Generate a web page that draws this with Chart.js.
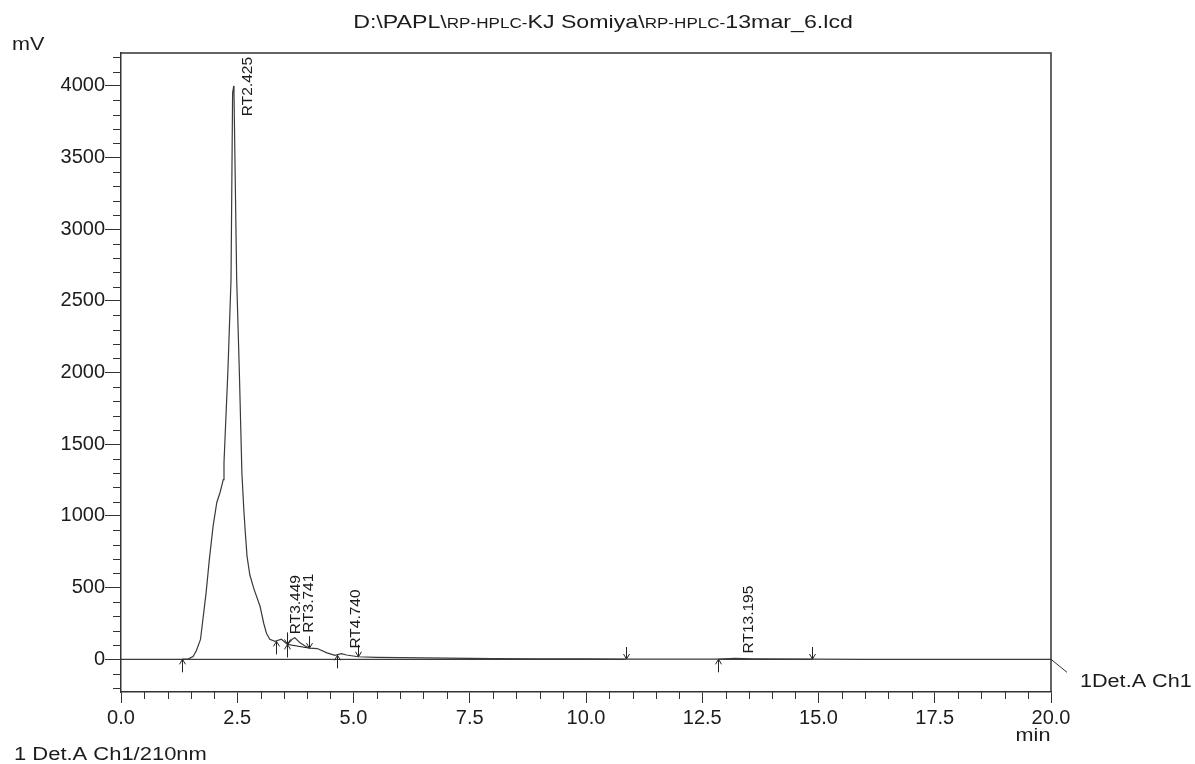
<!DOCTYPE html>
<html><head><meta charset="utf-8">
<script src="https://cdn.jsdelivr.net/npm/chart.js@4.4.1/dist/chart.umd.min.js"></script>
<style>html,body{margin:0;padding:0;background:#fff;}#wrap{width:1195px;height:764px;position:relative;}</style>
</head><body><div id="wrap"><canvas id="c"></canvas></div>
<script>
// ---- data ----
const timeMin = [0, 1.3, 1.45, 1.55, 1.62, 1.71, 1.83, 1.90, 1.98, 2.06, 2.13, 2.20, 2.215, 2.30, 2.366, 2.40, 2.425, 2.43, 2.488, 2.544, 2.60, 2.64, 2.67, 2.71, 2.77, 2.86, 2.99, 3.07, 3.13, 3.20, 3.31, 3.45, 3.58, 3.68, 3.74, 3.85, 3.95, 4.05, 4.22, 4.43, 4.60, 4.74, 4.85, 5.1, 5.5, 6.0, 7.0, 8.0, 9.0, 10.0, 10.85, 12.0, 12.84, 13.2, 13.6, 14.87, 16.0, 20.0];
const signalMv = [0, 0, 3, 20, 60, 139, 464, 697, 927, 1094, 1164, 1254, 1373, 2020, 2648, 3950, 4000, 3950, 2648, 2020, 1300, 1050, 900, 720, 590, 490, 370, 250, 180, 139, 125, 140, 104, 140, 150, 115, 95, 78, 75, 45, 28, 40, 30, 18, 14, 12, 8, 5, 4, 3, 2, 1, 1, 6, 4, 2, 0, 0];
const baseTime = [1.31, 10.85, 10.85, 3.58, 4.05, 4.05, 12.84, 14.87];
const baseMv = [0, 0, null, 104, 78, null, 0, 0];
const peakTime = [2.425, 3.449, 3.741, 4.740, 13.195];
const peakMv = [4000, 140, 150, 40, 6];
const peakLabels = peakTime.map(t => 'RT' + t.toFixed(3));
const arrowUpTime = [1.31, 3.33, 3.58, 4.64, 12.84];
const arrowUpMv = [0, 125, 104, 28, 0];
const arrowDownTime = [3.58, 4.05, 5.09, 10.85, 14.87];
const arrowDownMv = [104, 78, 18, 2, 2];
const xMin = 0, xMax = 20, xTickStep = 0.5, xLabelStep = 2.5;
const yMin = -228, yMax = 4230, yTickStep = 100, yLabelStep = 500;
const titleParts = ['D:\\PAPL\\', 'RP-HPLC-', 'KJ Somiya\\', 'RP-HPLC-', '13mar_6.lcd'];
const titleSmall = [false, true, false, true, false];
const yUnit = 'mV', xUnit = 'min';
const traceName = '1Det.A Ch1';
const footNote = '1 Det.A Ch1/210nm';

// ---- drawing ----
const FONT = '"Liberation Sans", Arial, Helvetica, sans-serif';
const INK = '#1c1c1c';
const isMul = (v, s) => Math.abs(v / s - Math.round(v / s)) < 1e-6;

function stretchText(ctx, text, x, y, size, align, sx) {
  ctx.save();
  ctx.font = size + 'px ' + FONT;
  const w = ctx.measureText(text).width * sx;
  let x0 = x;
  if (align === 'center') x0 = x - w / 2;
  else if (align === 'right') x0 = x - w;
  ctx.translate(x0, y);
  ctx.scale(sx, 1);
  ctx.textAlign = 'left';
  ctx.textBaseline = 'alphabetic';
  ctx.fillText(text, 0, 0);
  ctx.restore();
}

const decor = {
  id: 'decor',
  afterDatasetsDraw(chart) {
    const {ctx, chartArea: a, scales: {x, y}} = chart;
    ctx.save();
    ctx.strokeStyle = '#333';
    ctx.lineWidth = 1.5;
    ctx.beginPath();
    ctx.moveTo(a.left, a.top); ctx.lineTo(a.right, a.top); ctx.lineTo(a.right, a.bottom);
    ctx.stroke();
    // minor ticks
    ctx.lineWidth = 1;
    ctx.beginPath();
    y.ticks.forEach(t => {
      if (!isMul(t.value, yLabelStep)) {
        const py = Math.round(y.getPixelForValue(t.value)) + 0.5;
        ctx.moveTo(a.left - 8, py); ctx.lineTo(a.left, py);
      }
    });
    x.ticks.forEach(t => {
      if (!isMul(t.value, xLabelStep)) {
        const px = Math.round(x.getPixelForValue(t.value)) + 0.5;
        ctx.moveTo(px, a.bottom); ctx.lineTo(px, a.bottom + 7);
      }
    });
    ctx.stroke();

    // integration arrows
    ctx.strokeStyle = '#222';
    ctx.lineWidth = 1;
    ctx.beginPath();
    arrowUpTime.forEach((t, i) => {
      const px = Math.round(x.getPixelForValue(t)) + 0.5, py = y.getPixelForValue(arrowUpMv[i]);
      ctx.moveTo(px, py + 13); ctx.lineTo(px, py);
      ctx.moveTo(px - 3, py + 5); ctx.lineTo(px, py); ctx.lineTo(px + 3, py + 5);
    });
    arrowDownTime.forEach((t, i) => {
      const px = Math.round(x.getPixelForValue(t)) + 0.5, py = y.getPixelForValue(arrowDownMv[i]);
      ctx.moveTo(px, py - 12); ctx.lineTo(px, py);
      ctx.moveTo(px - 3, py - 5); ctx.lineTo(px, py); ctx.lineTo(px + 3, py - 5);
    });
    ctx.stroke();

    // peak labels (rotated)
    ctx.fillStyle = INK;
    ctx.font = '15.5px ' + FONT;
    peakTime.forEach((t, i) => {
      const txt = peakLabels[i];
      const w = ctx.measureText(txt).width;
      const px = x.getPixelForValue(t) + 7 + 11.5;
      const yb = Math.max(y.getPixelForValue(peakMv[i]) - 5, a.top + 4 + w);
      ctx.save();
      ctx.translate(px, yb);
      ctx.rotate(-Math.PI / 2);
      ctx.textAlign = 'left';
      ctx.textBaseline = 'alphabetic';
      ctx.fillText(txt, 0, 0);
      ctx.restore();
    });

    // trace label + leader line
    const y0 = y.getPixelForValue(0);
    ctx.strokeStyle = '#333';
    ctx.beginPath();
    ctx.moveTo(a.right, y0); ctx.lineTo(a.right + 16, y0 + 13);
    ctx.stroke();
    stretchText(ctx, traceName, a.right + 29, y0 + 28, 18, 'left', 1.2);

    // title
    let total = 0;
    const sizes = titleSmall.map(s => s ? 14 : 19);
    const tsx = 1.22;
    titleParts.forEach((p, i) => { ctx.font = sizes[i] + 'px ' + FONT; total += ctx.measureText(p).width * tsx; });
    let tx = 603 - total / 2;
    titleParts.forEach((p, i) => {
      ctx.font = sizes[i] + 'px ' + FONT;
      const w = ctx.measureText(p).width * tsx;
      stretchText(ctx, p, tx, 28, sizes[i], 'left', tsx);
      tx += w;
    });
    stretchText(ctx, yUnit, 12, 50, 18, 'left', 1.2);
    stretchText(ctx, xUnit, a.right - 18, 741, 18, 'center', 1.2);
    stretchText(ctx, footNote, 14, 760, 18, 'left', 1.22);
    ctx.restore();
  }
};

const signalPts = timeMin.map((t, i) => ({x: t, y: signalMv[i]}));
const basePts = baseTime.map((t, i) => ({x: t, y: baseMv[i]}));

new Chart(document.getElementById('c'), {
  type: 'line',
  data: {
    datasets: [
      {data: signalPts, borderColor: '#3a3a3a', borderWidth: 1.2, pointRadius: 0, tension: 0, fill: false},
      {data: basePts, borderColor: '#111', borderWidth: 1, pointRadius: 0, tension: 0, fill: false, spanGaps: false}
    ]
  },
  options: {
    responsive: true,
    maintainAspectRatio: false,
    animation: false,
    devicePixelRatio: 1,
    layout: {padding: {left: 0, top: 53, right: 144, bottom: 0}},
    plugins: {legend: {display: false}, title: {display: false}, tooltip: {enabled: false}},
    scales: {
      x: {
        type: 'linear', min: xMin, max: xMax,
        afterFit: s => { s.height = 72; },
        border: {display: true, color: '#333', width: 1.5},
        grid: {drawOnChartArea: false, drawTicks: true, tickLength: 11,
               tickColor: c => isMul(c.tick.value, xLabelStep) ? '#333' : 'rgba(0,0,0,0)'},
        ticks: {stepSize: xTickStep, autoSkip: false, maxRotation: 0, padding: 3, color: INK,
                font: {family: FONT, size: 20},
                callback: v => isMul(v, xLabelStep) ? Number(v).toFixed(1) : ''}
      },
      y: {
        type: 'linear', min: yMin, max: yMax,
        afterFit: s => { s.width = 121; },
        border: {display: true, color: '#333', width: 1.5},
        grid: {drawOnChartArea: false, drawTicks: true, tickLength: 16,
               tickColor: c => isMul(c.tick.value, yLabelStep) ? '#333' : 'rgba(0,0,0,0)'},
        ticks: {stepSize: yTickStep, includeBounds: false, autoSkip: false, padding: 0, color: INK,
                font: {family: FONT, size: 20},
                callback: v => isMul(v, yLabelStep) ? String(Math.round(v)) : ''}
      }
    }
  },
  plugins: [decor]
});
</script></body></html>
